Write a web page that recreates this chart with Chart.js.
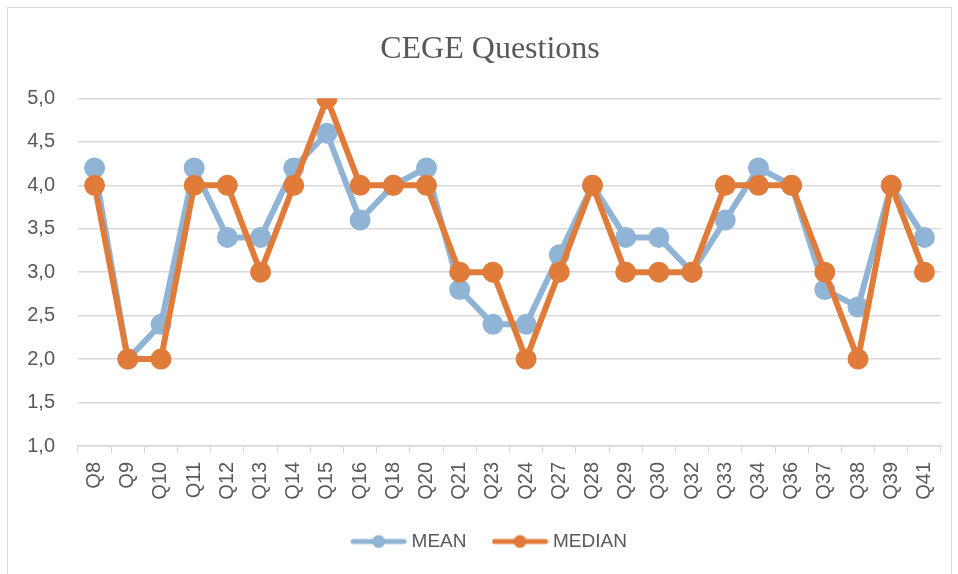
<!DOCTYPE html>
<html>
<head>
<meta charset="utf-8">
<script src="https://cdn.jsdelivr.net/npm/chart.js@4.4.1/dist/chart.umd.min.js"></script>
<style>
  html, body { margin: 0; padding: 0; background: #fff; overflow: hidden; }
  #wrap { position: absolute; left: 0; top: 0; width: 958px; height: 574px; }
  #frame { position: absolute; left: 7px; top: 7px; width: 945px; height: 580px; border: 1px solid #d9d9d9; box-sizing: border-box; }
  canvas { position: absolute; left: 0; top: 0; }
</style>
</head>
<body>
<div id="wrap">
  <div id="frame"></div>
  <canvas id="cegeChart" width="958" height="574"></canvas>
</div>
<script>
const questions = ['Q8', 'Q9', 'Q10', 'Q11', 'Q12', 'Q13', 'Q14', 'Q15', 'Q16', 'Q18', 'Q20', 'Q21', 'Q23',
    'Q24', 'Q27', 'Q28', 'Q29', 'Q30', 'Q32', 'Q33', 'Q34', 'Q36', 'Q37', 'Q38', 'Q39', 'Q41'];
const meanValues = [4.2, 2.0, 2.4, 4.2, 3.4, 3.4, 4.2, 4.6, 3.6, 4.0, 4.2, 2.8, 2.4,
    2.4, 3.2, 4.0, 3.4, 3.4, 3.0, 3.6, 4.2, 4.0, 2.8, 2.6, 4.0, 3.4];
const medianValues = [4, 2, 2, 4, 4, 3, 4, 5, 4, 4, 4, 3, 3,
    2, 3, 4, 3, 3, 3, 4, 4, 4, 3, 2, 4, 3];

const meanColor = '#8fb4d6';
const medianColor = '#e07b39';
const textColor = '#595959';
const gridColor = '#d9d9d9';
const sansFont = '"Liberation Sans", Arial, sans-serif';

// legend marker: a short line with a dot in the middle, like Excel does
function legendMarker(color) {
    const c = document.createElement('canvas');
    c.width = 57;
    c.height = 16;
    const g = c.getContext('2d');
    g.strokeStyle = color;
    g.lineWidth = 5;
    g.lineCap = 'round';
    g.beginPath();
    g.moveTo(3, 8);
    g.lineTo(54, 8);
    g.stroke();
    g.fillStyle = color;
    g.beginPath();
    g.arc(28.5, 8, 6.5, 0, Math.PI * 2);
    g.fill();
    return c;
}

// title and legend in the original sit a bit left of the plot centre
const shiftBlocks = {
    id: 'shiftBlocks',
    afterLayout(chart) {
        if (chart.titleBlock) chart.titleBlock.left = 39;
        if (chart.legend) chart.legend.left = 41;
    }
};

const ctx = document.getElementById('cegeChart').getContext('2d');
new Chart(ctx, {
    type: 'line',
    data: {
        labels: questions,
        datasets: [
            {
                label: 'MEAN',
                data: meanValues,
                borderColor: meanColor,
                backgroundColor: meanColor,
                borderWidth: 6,
                pointRadius: 7.5,
                pointHoverRadius: 7.5,
                tension: 0,
                fill: false,
                order: 2
            },
            {
                label: 'MEDIAN',
                data: medianValues,
                borderColor: medianColor,
                backgroundColor: medianColor,
                borderWidth: 6,
                pointRadius: 7.5,
                pointHoverRadius: 7.5,
                tension: 0,
                fill: false,
                order: 1
            }
        ]
    },
    plugins: [shiftBlocks],
    options: {
        responsive: false,
        animation: false,
        layout: { padding: { left: 8, right: 17, top: 8, bottom: 13 } },
        plugins: {
            title: {
                display: true,
                text: 'CEGE Questions',
                color: textColor,
                font: { family: '"Liberation Serif", "Times New Roman", serif', size: 32, weight: 'normal' },
                padding: { top: 22, bottom: 30 }
            },
            legend: {
                position: 'bottom',
                labels: {
                    color: textColor,
                    font: { family: sansFont, size: 19 },
                    usePointStyle: true,
                    pointStyleWidth: 47,
                    padding: 30,
                    generateLabels: function (chart) {
                        return chart.data.datasets.map((ds, i) => ({
                            text: ds.label,
                            fontColor: textColor,
                            pointStyle: legendMarker(ds.borderColor),
                            strokeStyle: ds.borderColor,
                            fillStyle: ds.borderColor,
                            lineWidth: 0,
                            datasetIndex: i
                        }));
                    }
                }
            },
            tooltip: { enabled: false }
        },
        scales: {
            x: {
                offset: true,
                grid: {
                    offset: true,
                    drawOnChartArea: false,
                    drawTicks: true,
                    tickLength: 7,
                    color: gridColor
                },
                border: { color: gridColor, width: 1.5 },
                ticks: {
                    color: textColor,
                    font: { family: sansFont, size: 20 },
                    minRotation: 90,
                    maxRotation: 90,
                    autoSkip: false,
                    padding: 9
                },
                afterFit: scale => { scale.height = 56; }
            },
            y: {
                min: 1,
                max: 5,
                grid: { color: gridColor, lineWidth: 1.5, drawTicks: false },
                border: { display: false },
                ticks: {
                    stepSize: 0.5,
                    color: textColor,
                    font: { family: sansFont, size: 20 },
                    padding: 23,
                    callback: value => value.toFixed(1).replace('.', ',')
                },
                afterFit: scale => { scale.width = 70; }
            }
        }
    }
});
</script>
</body>
</html>
